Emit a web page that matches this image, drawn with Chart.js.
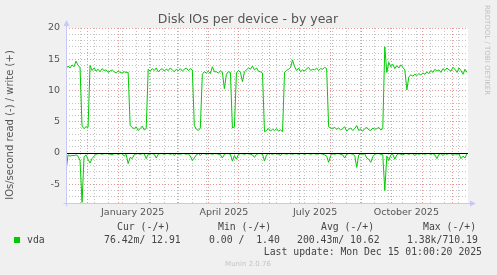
<!DOCTYPE html>
<html>
<head>
<meta charset="utf-8">
<script src="https://cdn.jsdelivr.net/npm/chart.js@4.4.1/dist/chart.umd.min.js"></script>
<style>
  body { margin: 0; background: #f0f0f0; }
  canvas { display: block; }
</style>
</head>
<body>
<canvas id="mycanvas" width="497" height="275"></canvas>
<script>
// one point every 2 days, starting 2024-11-10 (munin "by year" = 400 days)
var startDate = Date.UTC(2024, 10, 10);
var stepDays = 2;

var writeOps = [
  13.5, 13.9, 13.6, 14.1, 13.8, 14.7, 14.0, 13.7, 4.3, 3.9,
  4.2, 4.1, 14.0, 13.2, 13.6, 13.1, 13.4, 13.0, 13.5, 13.2,
  13.3, 12.9, 13.1, 13.3, 13.0, 12.8, 13.1, 12.9, 12.8, 13.0,
  12.9, 12.9, 4.4, 4.1, 3.9, 4.2, 3.6, 3.9, 4.3, 3.7,
  3.9, 13.4, 13.1, 13.5, 13.2, 13.6, 13.0, 13.3, 13.5, 13.1,
  13.4, 13.2, 13.6, 13.3, 13.0, 13.4, 13.2, 13.5, 13.1, 13.4,
  13.6, 13.2, 13.5, 13.3, 4.4, 3.8, 3.6, 4.0, 12.6, 13.0,
  12.8, 13.1, 12.7, 13.8, 13.0, 13.0, 12.8, 13.1, 12.9, 10.3,
  12.6, 13.0, 12.9, 4.0, 4.2, 12.8, 13.2, 12.9, 11.4, 13.0,
  13.3, 13.6, 13.4, 13.9, 13.3, 13.6, 13.1, 13.0, 12.8, 3.4,
  3.6, 3.9, 3.5, 3.8, 3.6, 3.9, 3.5, 3.7, 3.4, 12.9,
  13.2, 13.4, 13.7, 14.9, 13.8, 13.2, 13.6, 13.0, 13.3, 13.1,
  13.5, 13.7, 13.2, 13.4, 13.3, 13.6, 13.2, 13.5, 13.4, 13.7,
  13.5, 4.2, 4.0, 3.9, 4.1, 3.8, 4.0, 3.7, 3.9, 4.2,
  3.5, 3.8, 4.0, 3.6, 3.9, 4.4, 3.6, 3.8, 3.5, 3.9,
  4.1, 3.7, 3.6, 4.0, 3.8, 3.9, 4.1, 3.7, 3.9, 17.0,
  12.9, 14.5, 13.8, 14.2, 13.5, 14.0, 13.6, 14.1, 13.7, 13.3,
  10.1, 12.2, 12.5, 12.3, 12.6, 12.4, 12.7, 12.5, 12.8, 12.6,
  13.0, 12.7, 13.2, 12.9, 13.4, 13.1, 13.3, 12.9, 13.5, 13.2,
  13.6, 13.3, 13.1, 13.7, 13.4, 12.9, 13.6, 13.2, 12.6, 13.4,
  12.9
];

var readOps = [
  -3.0, -0.3, -0.5, -0.4, -0.4, -0.3, -0.5, -1.2, -7.9, -0.6,
  -0.3, -1.0, -1.6, -0.9, -0.5, -0.2, -0.1, -0.1, -0.2, -0.1,
  -0.1, -0.1, -0.2, -0.3, -0.1, -0.1, -0.2, -0.1, -0.1, -0.5,
  -0.2, -1.7, -0.7, -0.9, -0.3, -0.1, -0.1, -0.2, -0.1, -0.1,
  -0.9, -0.2, -0.1, -0.1, -0.2, -0.8, -0.2, -0.1, -0.1, -0.2,
  -0.1, -0.1, -0.2, -0.1, -0.4, -0.1, -0.1, -0.2, -0.1, -0.1,
  -0.2, -0.1, -0.5, -1.2, -0.8, -0.3, -0.1, -0.4, -0.1, -0.1,
  -0.2, -0.1, -0.1, -0.2, -0.1, -0.1, -0.2, -0.3, -0.8, -0.2,
  -0.1, -0.1, -0.2, -1.3, -0.4, -1.0, -0.2, -0.1, -0.1, -0.2,
  -0.1, -0.1, -0.2, -0.3, -0.7, -0.2, -0.1, -0.1, -0.2, -1.3,
  -0.3, -0.1, -0.1, -0.2, -0.1, -0.1, -0.2, -0.4, -0.1, -0.1,
  -0.2, -0.1, -0.1, -0.2, -0.1, -0.1, -0.2, -0.1, -0.1, -0.2,
  -0.1, -0.1, -0.2, -0.1, -0.1, -0.2, -0.1, -0.1, -0.2, -0.3,
  -0.5, -1.5, -0.4, -0.1, -0.2, -0.1, -0.1, -0.2, -0.3, -0.8,
  -0.2, -0.1, -0.1, -0.2, -0.4, -2.3, -0.3, -0.1, -0.2, -0.1,
  -0.8, -1.0, -1.5, -0.6, -0.2, -0.1, -0.1, -0.2, -0.3, -6.0,
  -0.5, -1.2, -0.3, -0.2, -1.0, -0.3, -0.1, -0.2, -0.3, -0.1,
  -0.1, -0.2, -0.1, -0.1, -0.4, -0.1, -0.2, -0.1, -0.1, -0.2,
  -0.1, -0.1, -0.2, -0.1, -0.3, -0.9, -0.2, -0.1, -0.4, -0.1,
  -0.2, -0.1, -0.1, -0.4, -0.1, -0.2, -0.1, -0.9, -0.5, -0.8,
  -0.1
];

var monthStarts = ['2024-12-01', '2025-01-01', '2025-02-01', '2025-03-01', '2025-04-01', '2025-05-01',
  '2025-06-01', '2025-07-01', '2025-08-01', '2025-09-01', '2025-10-01', '2025-11-01', '2025-12-01'];
var xLabels = ['January 2025', 'April 2025', 'July 2025', 'October 2025'];
var xLabelDates = ['2025-01-15', '2025-04-16', '2025-07-16', '2025-10-15'];
var firstWeekLine = '2024-11-24';

var yTicks = [-8, -7, -6, -5, -4, -3, -2, -1, 0, 1, 2, 3, 4, 5, 6, 7, 8, 9, 10,
  11, 12, 13, 14, 15, 16, 17, 18, 19, 20];

var legendHead = ['Cur (-/+)', 'Min (-/+)', 'Avg (-/+)', 'Max (-/+)'];
var legendVals = ['76.42m/ 12.91', '0.00 /  1.40', '200.43m/ 10.62', '1.38k/710.19'];

function dayOf(s) {
  var p = s.split('-');
  return (Date.UTC(+p[0], +p[1] - 1, +p[2]) - startDate) / 86400000;
}

var monthDays = monthStarts.map(dayOf);
var labelDays = xLabelDates.map(dayOf);
var weekDays = [];
for (var d = dayOf(firstWeekLine); d < 401; d += 14) weekDays.push(d);

var RED = 'rgba(230,140,140,0.9)';
var GRAY = 'rgba(190,190,190,0.9)';
var AXIS = '#c8c8f8';

var xTickList = [];
weekDays.forEach(function(v){ xTickList.push({value: v, kind: 'minor'}); });
monthDays.forEach(function(v){ xTickList.push({value: v, kind: 'major'}); });
labelDays.forEach(function(v, i){ xTickList.push({value: v + 0.5, kind: 'label', text: xLabels[i]}); });

var munin = {
  id: 'munin',
  beforeDraw: function(chart) {
    var c = chart.ctx, a = chart.chartArea;
    c.save();
    c.fillStyle = '#f0f0f0';
    c.fillRect(0, 0, chart.width, chart.height);
    c.fillStyle = '#ffffff';
    c.fillRect(a.left, a.top, a.right - a.left, a.bottom - a.top);
    c.restore();
  },
  afterDatasetsDraw: function(chart) {
    var c = chart.ctx, a = chart.chartArea;
    var y0 = Math.round(chart.scales.y.getPixelForValue(0)) + 0.5;
    c.save();
    c.strokeStyle = '#000';
    c.lineWidth = 1;
    c.beginPath();
    c.moveTo(a.left, y0);
    c.lineTo(a.right, y0);
    c.stroke();
    c.restore();
  },
  afterDraw: function(chart) {
    var c = chart.ctx, a = chart.chartArea;
    c.save();
    // axes with arrows
    c.strokeStyle = AXIS;
    c.fillStyle = AXIS;
    c.lineWidth = 1;
    var lx = Math.round(a.left) + 0.5, by = Math.round(a.bottom) + 0.5;
    c.beginPath();
    c.moveTo(lx, by + 3);
    c.lineTo(lx, a.top - 2);
    c.moveTo(lx - 3, by);
    c.lineTo(a.right + 2, by);
    c.stroke();
    c.beginPath();
    c.moveTo(lx - 3, a.top - 2);
    c.lineTo(lx + 3, a.top - 2);
    c.lineTo(lx, a.top - 8);
    c.closePath();
    c.fill();
    c.beginPath();
    c.moveTo(a.right + 2, by - 3);
    c.lineTo(a.right + 2, by + 3);
    c.lineTo(a.right + 8, by);
    c.closePath();
    c.fill();

    // title
    c.fillStyle = '#555';
    c.textAlign = 'center';
    c.textBaseline = 'middle';
    c.font = '12.5px "DejaVu Sans"';
    c.fillText('Disk IOs per device - by year', 248, 19.5);

    // vertical axis title
    c.save();
    c.translate(10, 125);
    c.rotate(-Math.PI / 2);
    c.font = '10px "DejaVu Sans"';
    c.fillStyle = '#555';
    c.fillText('IOs/second read (-) / write (+)', 0, 0);
    c.restore();

    // rrdtool watermark
    c.save();
    c.translate(487, 50);
    c.rotate(Math.PI / 2);
    c.font = '7px "DejaVu Sans"';
    c.fillStyle = '#c0c0c0';
    c.fillText('RRDTOOL / TOBI OETIKER', 0, 0);
    c.restore();

    // legend
    c.font = '9.8px "DejaVu Sans Mono"';
    c.fillStyle = '#444';
    c.textAlign = 'left';
    var headX = [117, 218, 321, 423];
    var valX = [104, 209, 297, 407];
    legendHead.forEach(function(t, i){ c.fillText(t, headX[i], 227.5); });
    legendVals.forEach(function(t, i){ c.fillText(t, valX[i], 240); });
    c.fillText('vda', 27, 240);
    c.fillStyle = '#00cc00';
    c.fillRect(14, 237, 6, 6);
    c.fillStyle = '#444';
    c.textAlign = 'right';
    c.fillText('Last update: Mon Dec 15 01:00:20 2025', 482, 252);
    c.textAlign = 'center';
    c.font = '7px "DejaVu Sans"';
    c.fillStyle = '#c4c4c4';
    c.fillText('Munin 2.0.76', 248, 264);
    c.restore();
  }
};

function points(arr) {
  return arr.map(function(v, i){ return {x: i * stepDays, y: v}; });
}

var ctx = document.getElementById('mycanvas');
var chart = new Chart(ctx, {
  type: 'line',
  data: {
    datasets: [
      { label: 'vda write', data: points(writeOps), borderColor: '#00cc00', borderWidth: 1, pointRadius: 0, tension: 0, fill: false },
      { label: 'vda read', data: points(readOps), borderColor: '#00cc00', borderWidth: 1, pointRadius: 0, tension: 0, fill: false }
    ]
  },
  plugins: [munin],
  options: {
    responsive: false,
    animation: false,
    devicePixelRatio: 1,
    layout: { padding: { top: 28, right: 29, left: 0, bottom: 0 } },
    plugins: { legend: { display: false }, tooltip: { enabled: false } },
    scales: {
      x: {
        type: 'linear',
        min: 0,
        max: 401,
        afterFit: function(s){ s.height = 72; },
        afterBuildTicks: function(s){ s.ticks = xTickList.map(function(t){ return {value: t.value}; }); },
        border: { display: false, dash: [1, 2] },
        grid: {
          drawTicks: false,
          color: function(c) {
            var t = xTickList[c.index];
            if (!t || t.kind === 'label') return 'rgba(0,0,0,0)';
            return t.kind === 'major' ? RED : GRAY;
          }
        },
        ticks: {
          autoSkip: false,
          maxRotation: 0,
          padding: 4,
          color: '#555',
          font: { family: 'DejaVu Sans', size: 9.5 },
          callback: function(v, i) {
            var t = xTickList[i];
            return t && t.kind === 'label' ? t.text : '';
          }
        }
      },
      y: {
        min: -8,
        max: 20,
        afterFit: function(s){ s.width = 66; },
        afterBuildTicks: function(s){ s.ticks = yTicks.map(function(v){ return {value: v}; }); },
        border: { display: false, dash: [1, 2] },
        grid: {
          drawTicks: false,
          color: function(c) {
            var v = c.tick ? c.tick.value : 1;
            return v % 5 === 0 ? RED : GRAY;
          }
        },
        ticks: {
          autoSkip: false,
          padding: 6,
          color: '#555',
          font: { family: 'DejaVu Sans', size: 9.5 },
          callback: function(v){ return v % 5 === 0 ? v : ''; }
        }
      }
    }
  }
});
</script>
</body>
</html>
